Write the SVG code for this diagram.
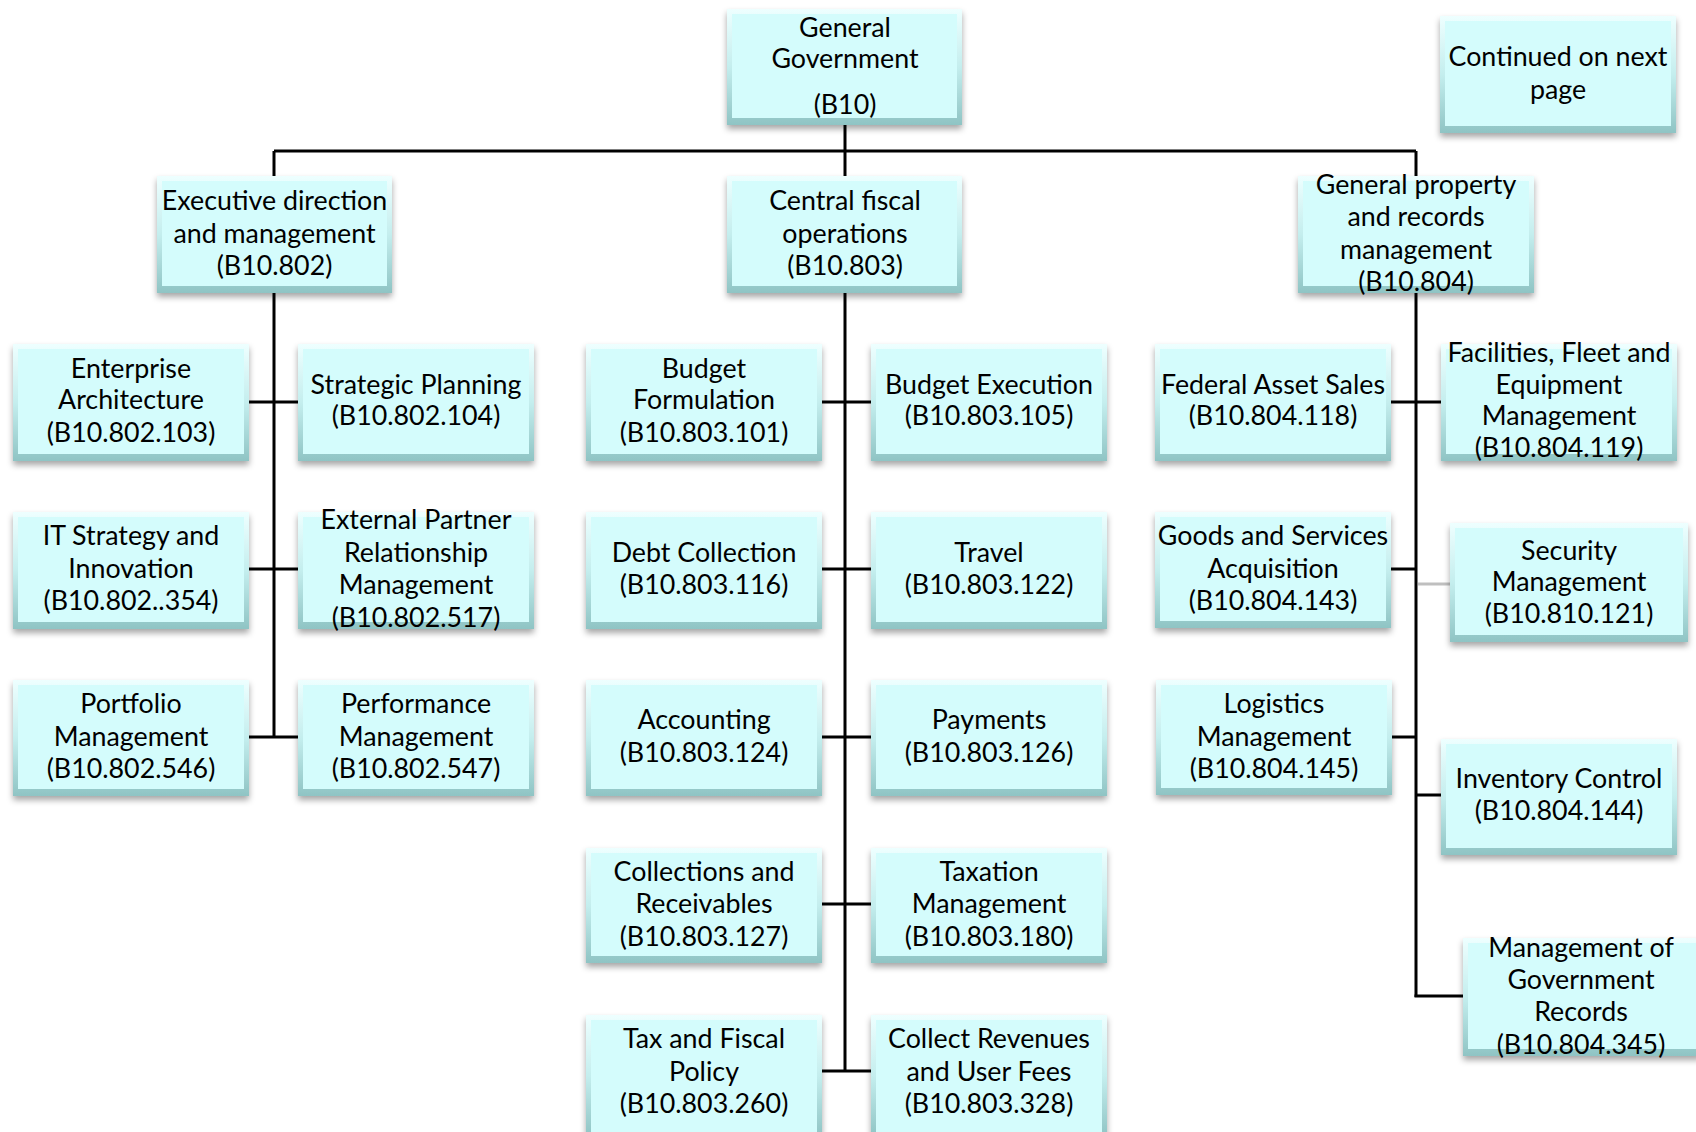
<svg xmlns="http://www.w3.org/2000/svg" width="1696" height="1132" viewBox="0 0 1696 1132">
<defs>
<linearGradient id="edge" x1="0" y1="0" x2="0" y2="1">
<stop offset="0" stop-color="#EEFFFF"/>
<stop offset="0.5" stop-color="#C4EEEE"/>
<stop offset="1" stop-color="#8FC4C4"/>
</linearGradient>
<filter id="sh" x="-10%" y="-10%" width="120%" height="130%">
<feDropShadow dx="0" dy="4" stdDeviation="3" flood-color="#000" flood-opacity="0.35"/>
</filter>
</defs>
<style>
.o{fill:url(#edge);filter:url(#sh)}
.i{fill:#D4FCFC}
text{font-family:Lato,"Liberation Sans",sans-serif;font-size:26.8px;fill:#000;text-anchor:middle}
.c line{stroke:#000;stroke-width:3}
.c line.g{stroke:#BFBFBF}
</style>

<g class="c" id="connectors">
<line x1="845" y1="125" x2="845" y2="176"/>
<line x1="274" y1="151" x2="1416" y2="151"/>
<line x1="274" y1="151" x2="274" y2="176"/>
<line x1="1416" y1="151" x2="1416" y2="176"/>
<line x1="274" y1="293" x2="274" y2="738"/>
<line x1="249" y1="402" x2="298" y2="402"/>
<line x1="249" y1="569" x2="298" y2="569"/>
<line x1="249" y1="737" x2="298" y2="737"/>
<line x1="845" y1="293" x2="845" y2="1072"/>
<line x1="822" y1="402" x2="871" y2="402"/>
<line x1="822" y1="569" x2="871" y2="569"/>
<line x1="822" y1="737" x2="871" y2="737"/>
<line x1="822" y1="904" x2="871" y2="904"/>
<line x1="822" y1="1071" x2="871" y2="1071"/>
<line x1="1416" y1="293" x2="1416" y2="997"/>
<line x1="1391" y1="402" x2="1441" y2="402"/>
<line x1="1391" y1="569" x2="1416" y2="569"/>
<line class="g" x1="1418" y1="584" x2="1450" y2="584"/>
<line x1="1392" y1="737" x2="1416" y2="737"/>
<line x1="1416" y1="795" x2="1441" y2="795"/>
<line x1="1414.5" y1="996" x2="1463" y2="996"/>
</g>

<g id="n-b10"><rect class="o" x="727" y="9" width="235" height="116"/><rect class="i" x="732" y="14" width="225" height="104"/>
<text x="845" y="37">General</text><text x="845" y="68">Government</text><text x="845" y="114">(B10)</text></g>

<g id="n-continued"><rect class="o" x="1440" y="16" width="236" height="117"/><rect class="i" x="1445" y="21" width="226" height="105"/>
<text x="1558" y="66">Continued on next</text><text x="1558" y="99">page</text></g>

<g id="n-b10-802"><rect class="o" x="157" y="176" width="235" height="117"/><rect class="i" x="162" y="181" width="225" height="105"/>
<text x="274.5" y="210">Executive direction</text><text x="274.5" y="243">and management</text><text x="274.5" y="275">(B10.802)</text></g>

<g id="n-b10-803"><rect class="o" x="727" y="176" width="235" height="117"/><rect class="i" x="732" y="181" width="225" height="105"/>
<text x="845" y="210">Central fiscal</text><text x="845" y="243">operations</text><text x="845" y="275">(B10.803)</text></g>

<g id="n-b10-804"><rect class="o" x="1298" y="176" width="236" height="117"/><rect class="i" x="1303" y="181" width="226" height="105"/>
<text x="1416" y="194">General property</text><text x="1416" y="226">and records</text><text x="1416" y="259">management</text><text x="1416" y="291">(B10.804)</text></g>

<g id="n-b10-802-103"><rect class="o" x="13" y="344" width="236" height="117"/><rect class="i" x="18" y="349" width="226" height="105"/>
<text x="131" y="378">Enterprise</text><text x="131" y="409">Architecture</text><text x="131" y="442">(B10.802.103)</text></g>

<g id="n-b10-802-104"><rect class="o" x="298" y="344" width="236" height="117"/><rect class="i" x="303" y="349" width="226" height="105"/>
<text x="416" y="394">Strategic Planning</text><text x="416" y="425">(B10.802.104)</text></g>

<g id="n-b10-802-354"><rect class="o" x="13" y="512" width="236" height="117"/><rect class="i" x="18" y="517" width="226" height="105"/>
<text x="131" y="545">IT Strategy and</text><text x="131" y="578">Innovation</text><text x="131" y="610">(B10.802..354)</text></g>

<g id="n-b10-802-517"><rect class="o" x="298" y="512" width="236" height="117"/><rect class="i" x="303" y="517" width="226" height="105"/>
<text x="416" y="529">External Partner</text><text x="416" y="562">Relationship</text><text x="416" y="594">Management</text><text x="416" y="627">(B10.802.517)</text></g>

<g id="n-b10-802-546"><rect class="o" x="13" y="680" width="236" height="116"/><rect class="i" x="18" y="685" width="226" height="104"/>
<text x="131" y="713">Portfolio</text><text x="131" y="746">Management</text><text x="131" y="778">(B10.802.546)</text></g>

<g id="n-b10-802-547"><rect class="o" x="298" y="680" width="236" height="116"/><rect class="i" x="303" y="685" width="226" height="104"/>
<text x="416" y="713">Performance</text><text x="416" y="746">Management</text><text x="416" y="778">(B10.802.547)</text></g>

<g id="n-b10-803-101"><rect class="o" x="586" y="344" width="236" height="117"/><rect class="i" x="591" y="349" width="226" height="105"/>
<text x="704" y="378">Budget</text><text x="704" y="409">Formulation</text><text x="704" y="442">(B10.803.101)</text></g>

<g id="n-b10-803-105"><rect class="o" x="871" y="344" width="236" height="117"/><rect class="i" x="876" y="349" width="226" height="105"/>
<text x="989" y="394">Budget Execution</text><text x="989" y="425">(B10.803.105)</text></g>

<g id="n-b10-803-116"><rect class="o" x="586" y="512" width="236" height="117"/><rect class="i" x="591" y="517" width="226" height="105"/>
<text x="704" y="562">Debt Collection</text><text x="704" y="594">(B10.803.116)</text></g>

<g id="n-b10-803-122"><rect class="o" x="871" y="512" width="236" height="117"/><rect class="i" x="876" y="517" width="226" height="105"/>
<text x="989" y="562">Travel</text><text x="989" y="594">(B10.803.122)</text></g>

<g id="n-b10-803-124"><rect class="o" x="586" y="680" width="236" height="116"/><rect class="i" x="591" y="685" width="226" height="104"/>
<text x="704" y="729">Accounting</text><text x="704" y="762">(B10.803.124)</text></g>

<g id="n-b10-803-126"><rect class="o" x="871" y="680" width="236" height="116"/><rect class="i" x="876" y="685" width="226" height="104"/>
<text x="989" y="729">Payments</text><text x="989" y="762">(B10.803.126)</text></g>

<g id="n-b10-803-127"><rect class="o" x="586" y="848" width="236" height="115"/><rect class="i" x="591" y="853" width="226" height="103"/>
<text x="704" y="881">Collections and</text><text x="704" y="913">Receivables</text><text x="704" y="946">(B10.803.127)</text></g>

<g id="n-b10-803-180"><rect class="o" x="871" y="848" width="236" height="115"/><rect class="i" x="876" y="853" width="226" height="103"/>
<text x="989" y="881">Taxation</text><text x="989" y="913">Management</text><text x="989" y="946">(B10.803.180)</text></g>

<g id="n-b10-803-260"><rect class="o" x="586" y="1015" width="236" height="122"/><rect class="i" x="591" y="1020" width="226" height="117"/>
<text x="704" y="1048">Tax and Fiscal</text><text x="704" y="1081">Policy</text><text x="704" y="1113">(B10.803.260)</text></g>

<g id="n-b10-803-328"><rect class="o" x="871" y="1015" width="236" height="122"/><rect class="i" x="876" y="1020" width="226" height="117"/>
<text x="989" y="1048">Collect Revenues</text><text x="989" y="1081">and User Fees</text><text x="989" y="1113">(B10.803.328)</text></g>

<g id="n-b10-804-118"><rect class="o" x="1155" y="344" width="236" height="117"/><rect class="i" x="1160" y="349" width="226" height="105"/>
<text x="1273" y="394">Federal Asset Sales</text><text x="1273" y="425">(B10.804.118)</text></g>

<g id="n-b10-804-119"><rect class="o" x="1441" y="344" width="236" height="117"/><rect class="i" x="1446" y="349" width="226" height="105"/>
<text x="1559" y="362">Facilities, Fleet and</text><text x="1559" y="394">Equipment</text><text x="1559" y="425">Management</text><text x="1559" y="457">(B10.804.119)</text></g>

<g id="n-b10-804-143"><rect class="o" x="1155" y="512" width="236" height="116"/><rect class="i" x="1160" y="517" width="226" height="104"/>
<text x="1273" y="545">Goods and Services</text><text x="1273" y="578">Acquisition</text><text x="1273" y="610">(B10.804.143)</text></g>

<g id="n-b10-810-121"><rect class="o" x="1450" y="523" width="238" height="119"/><rect class="i" x="1455" y="528" width="228" height="107"/>
<text x="1569" y="560">Security</text><text x="1569" y="591">Management</text><text x="1569" y="623">(B10.810.121)</text></g>

<g id="n-b10-804-145"><rect class="o" x="1156" y="680" width="236" height="115"/><rect class="i" x="1161" y="685" width="226" height="103"/>
<text x="1274" y="713">Logistics</text><text x="1274" y="746">Management</text><text x="1274" y="778">(B10.804.145)</text></g>

<g id="n-b10-804-144"><rect class="o" x="1441" y="739" width="236" height="116"/><rect class="i" x="1446" y="744" width="226" height="104"/>
<text x="1559" y="788">Inventory Control</text><text x="1559" y="820">(B10.804.144)</text></g>

<g id="n-b10-804-345"><rect class="o" x="1463" y="938" width="238" height="118"/><rect class="i" x="1468" y="943" width="228" height="106"/>
<text x="1581" y="957">Management of</text><text x="1581" y="989">Government</text><text x="1581" y="1021">Records</text><text x="1581" y="1054">(B10.804.345)</text></g>
</svg>
